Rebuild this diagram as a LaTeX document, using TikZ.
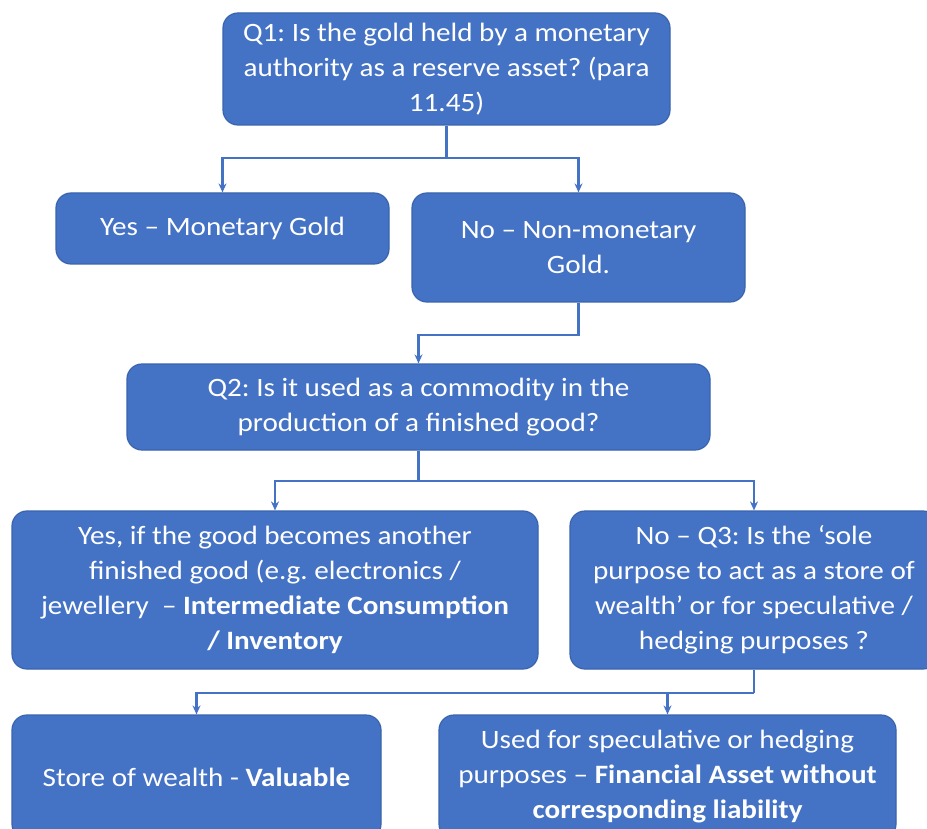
\documentclass[tikz,border=0pt]{standalone}
\usepackage{fontspec}
\setmainfont{Carlito}[FakeStretch=1.1]
\usetikzlibrary{arrows.meta}
\definecolor{boxblue}{HTML}{4472C4}
\definecolor{boxedge}{HTML}{3A64AE}
\frenchspacing
\begin{document}
\begin{tikzpicture}[x=1pt,y=-1pt,
  box/.style={rectangle, rounded corners=15pt, fill=boxblue, draw=boxedge, line width=1.2pt,
    text=white, align=center, inner sep=0pt, font=\fontsize{26.5}{35}\selectfont},
  conn/.style={draw=boxblue, line width=2.5pt},
  arr/.style={conn, -{Stealth[length=9pt,width=8pt]}}]
\useasboundingbox (0,0) rectangle (927,829);
\clip (0,0) rectangle (927,829);
\fill[white] (0,0) rectangle (927,829);
\node[box, minimum width=447pt, minimum height=112pt] (q1) at (446.5,69)
  {Q1: Is the gold held by a monetary\\authority as a reserve asset? (para\\11.45)};
\node[box, minimum width=333pt, minimum height=71pt] (yes1) at (222.5,228.5)
  {Yes -- Monetary Gold};
\node[box, minimum width=333pt, minimum height=109pt] (no1) at (578.5,247.5)
  {No -- Non-monetary\\Gold.};
\node[box, minimum width=583pt, minimum height=86pt] (q2) at (418.5,407)
  {Q2: Is it used as a commodity in the\\production of a finished good?};
\node[box, minimum width=526pt, minimum height=158pt] (yes2) at (275,590)
  {Yes, if the good becomes another\\finished good (e.g. electronics /\\jewellery~ -- \textbf{Intermediate Consumption}\\\textbf{/ Inventory}};
\node[box, minimum width=368pt, minimum height=158pt] (q3) at (754,590)
  {No -- Q3: Is the ‘sole\\purpose to act as a store of\\wealth’ or for speculative /\\hedging purposes ?};
\node[box, minimum width=369pt, minimum height=124pt] (store) at (196.5,777)
  {Store of wealth - \textbf{Valuable}};
\node[box, minimum width=457pt, minimum height=124pt] (used) at (667.5,777)
  {Used for speculative or hedging\\purposes -- \textbf{Financial Asset without}\\\textbf{corresponding liability}};
% connectors
\coordinate (j1) at (q1.south |- 0,158);
\coordinate (j2) at (no1.south |- 0,335);
\coordinate (j3) at (q2.south |- 0,481);
\coordinate (j4) at (q3.south |- 0,693);
\draw[conn] (q1.south) -- (j1);
\draw[arr] (j1) -| (yes1.north);
\draw[arr] (j1) -| (no1.north);
\draw[arr] (no1.south) -- (j2) -| (q2.north);
\draw[conn] (q2.south) -- (j3);
\draw[arr] (j3) -| (yes2.north);
\draw[arr] (j3) -| (q3.north);
\draw[conn] (q3.south) -- (j4);
\draw[arr] (j4) -| (store.north);
\draw[arr] (j4) -| (used.north);
\end{tikzpicture}
\end{document}
